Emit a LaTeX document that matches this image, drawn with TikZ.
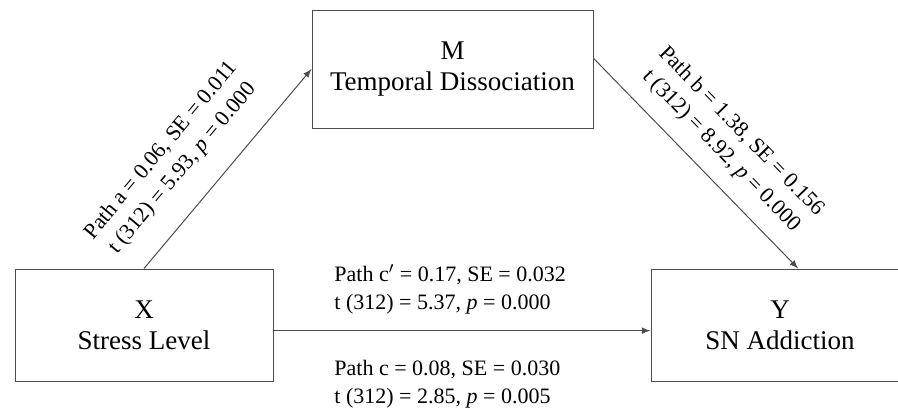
\documentclass[tikz,border=0pt]{standalone}
\usepackage{fontspec}
\setmainfont{Liberation Serif}
\usetikzlibrary{arrows,calc,positioning}
\tikzset{var/.style={draw=black!70, line width=0.5pt, minimum width=129pt, minimum height=56pt, align=center, font=\fontsize{13.5}{15.5}\selectfont}}
\tikzset{coef/.style={align=center, font=\fontsize{11}{14}\selectfont, inner sep=1pt}}
\tikzset{link/.style={draw=black!70, line width=0.5pt, -latex}}

\begin{document}
\begin{tikzpicture}[x=0.5pt,y=-0.5pt]
\useasboundingbox (0,0) rectangle (898,407);
\node[var] (X) at (144,325) {X\\Stress Level};
\node[var, minimum width=140.5pt, minimum height=59pt] (M) at (452.5,69) {M\\Temporal Dissociation};
\node[var] (Y) at (780,325) {Y\\SN Addiction};

\coordinate (m1) at ($(M.north east)!0.41!(M.south east)$);
\coordinate (y1) at ($(Y.north west)!0.57!(Y.north east)$);
\coordinate (x2) at ($(X.north east)!0.55!(X.south east)$);
\coordinate (y2) at ($(Y.north west)!0.55!(Y.south west)$);

\draw[link] (X.north)--node[coef,sloped,above,pos=0.39,inner ysep=12pt]{Path a = 0.06, SE = 0.011\\t (312) = 5.93, \textit{p} = 0.000}(M.west);
\draw[link] (m1)--node[coef,sloped,above,pos=0.53,inner ysep=8pt]{Path b = 1.38, SE = 0.156\\t (312) = 8.92, \textit{p} = 0.000}(y1);
\draw[link] (x2)--node[coef,align=left,anchor=south west,pos=0.155,yshift=7pt]{Path c$'$ = 0.17, SE = 0.032\\t (312) = 5.37, \textit{p} = 0.000}
  node[coef,align=left,anchor=north west,pos=0.155,yshift=-13.5pt]{Path c = 0.08, SE = 0.030\\t (312) = 2.85, \textit{p} = 0.005}(y2);
\end{tikzpicture}
\end{document}
